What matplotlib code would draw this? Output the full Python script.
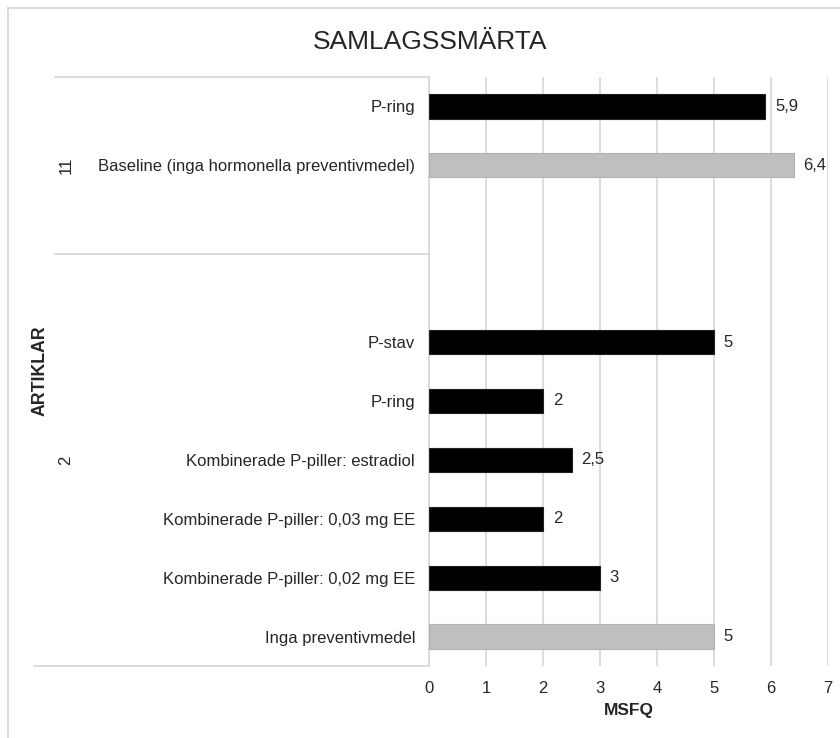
import matplotlib
matplotlib.use('Agg')
import matplotlib.pyplot as plt
from matplotlib.transforms import blended_transform_factory
import numpy as np

plt.rcParams['font.family'] = ['Liberation Sans', 'DejaVu Sans']

# data, bottom to top inside each group
group_names = ['2', '11']
group2_labels = ['Inga preventivmedel', 'Kombinerade P-piller: 0,02 mg EE',
                 'Kombinerade P-piller: 0,03 mg EE', 'Kombinerade P-piller: estradiol',
                 'P-ring', 'P-stav']
group2_values = [5, 3, 2, 2.5, 2, 5]
group11_labels = ['Baseline (inga hormonella preventivmedel)', 'P-ring']
group11_values = [6.4, 5.9]
is_baseline2 = [True, False, False, False, False, False]
is_baseline11 = [True, False]

# build slot list: group 2 has an empty slot on top, group 11 one at the bottom
labels = group2_labels + [''] + [''] + group11_labels
values = group2_values + [np.nan, np.nan] + group11_values
baseline = is_baseline2 + [False, False] + is_baseline11
n2 = len(group2_labels)

W, H = 840, 738
fig = plt.figure(figsize=(W / 100, H / 100), dpi=100)
ax = fig.add_axes([429 / W, (H - 666) / H, (828 - 429) / W, (666 - 77) / H])

txt_col = '#262626'
fs = 12

y = np.arange(len(labels))
colors = ['#bfbfbf' if b else 'black' for b in baseline]
edges = ['#b0b0b0' if b else '#222222' for b in baseline]
ax.barh(y, values, height=0.41, color=colors, edgecolor=edges, linewidth=0.8, zorder=3)

for yi, v in zip(y, values):
    if np.isnan(v):
        continue
    txt = ('%g' % v).replace('.', ',')
    ax.text(v + 0.17, yi, txt, va='center', ha='left', fontsize=fs, color=txt_col)

ax.set_xlim(0, 7)
ax.set_ylim(-0.5, len(labels) - 0.5)
ax.set_xticks(range(8))
ax.set_yticks(y)
ax.set_yticklabels(labels)
ax.tick_params(axis='both', length=0, labelsize=fs, colors=txt_col)
ax.tick_params(axis='y', pad=10)
ax.tick_params(axis='x', pad=11)
ax.grid(axis='x', color='#d9d9d9', linewidth=1.3, zorder=0)
for s in ['top', 'right', 'bottom']:
    ax.spines[s].set_visible(False)
ax.spines['left'].set_color('#d9d9d9')
ax.spines['left'].set_linewidth(1.3)

ax.set_xlabel('MSFQ', fontsize=12.5, fontweight='bold', color=txt_col, labelpad=5)

# group separators and group labels
tr = blended_transform_factory(fig.transFigure, ax.transData)
for sp in [len(labels) - 0.5, n2 + 0.5]:
    ax.plot([55 / W, 429 / W], [sp, sp], transform=tr, color='#d9d9d9', lw=1.3, clip_on=False)
ax.plot([34 / W, 429 / W], [-0.5, -0.5], transform=tr, color='#d9d9d9', lw=1.3, clip_on=False)

group_spans = [(-0.5, n2 + 0.5), (n2 + 0.5, len(labels) - 0.5)]
for name, (lo, hi) in zip(group_names, group_spans):
    fig.text(66 / W, (lo + hi) / 2, name, transform=tr, rotation=90, ha='center', va='center',
             fontsize=fs, color=txt_col)

fig.text(40 / W, 1 - 371 / H, 'ARTIKLAR', rotation=90, ha='center', va='center',
         fontsize=12.8, fontweight='bold', color=txt_col)
fig.text(430 / W, 1 - 42 / H, 'SAMLAGSSMÄRTA', ha='center', va='center',
         fontsize=19, color=txt_col)

# outer chart border (only top and left visible)
fig.add_artist(plt.Line2D([8 / W, 8 / W], [0, 1 - 8 / H], color='#d9d9d9', lw=1.3))
fig.add_artist(plt.Line2D([8 / W, 1], [1 - 8 / H, 1 - 8 / H], color='#d9d9d9', lw=1.3))

fig.savefig('out.png', dpi=100)
